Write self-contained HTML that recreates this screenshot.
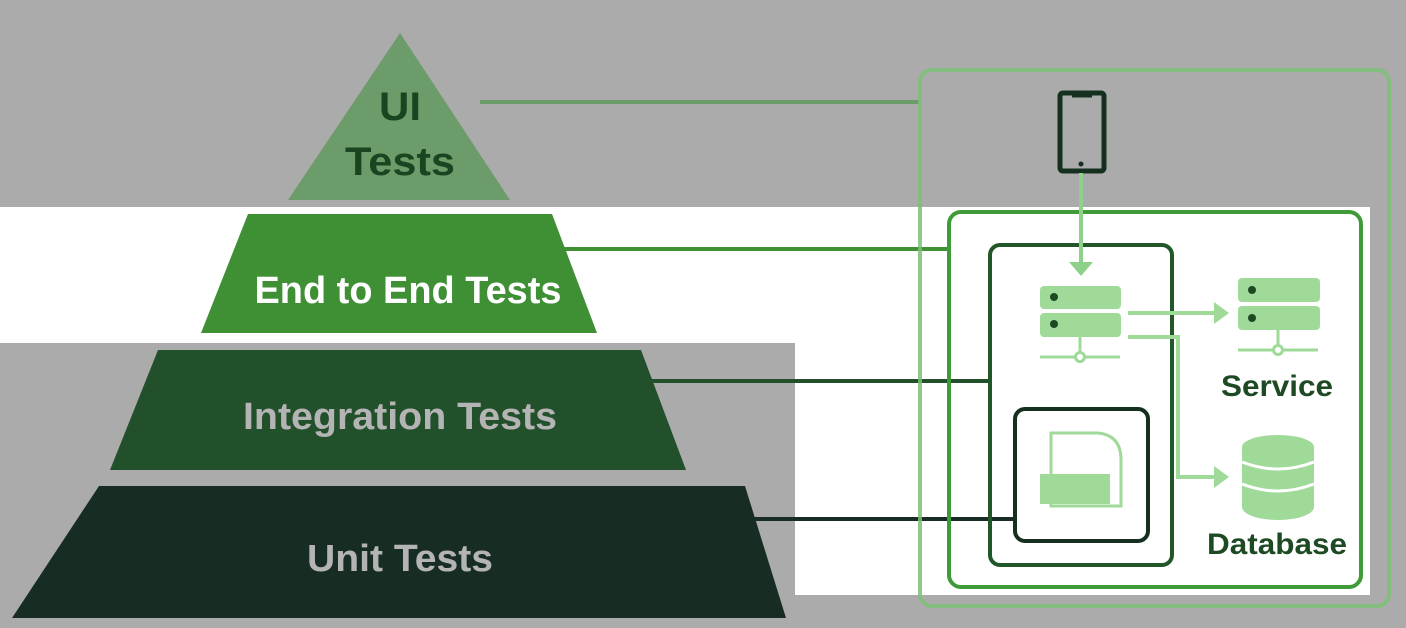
<!DOCTYPE html>
<html><head><meta charset="utf-8"><style>
html,body{margin:0;padding:0;background:#ababab;}
svg{display:block;font-family:"Liberation Sans",sans-serif;font-weight:bold;}
</style></head><body>
<svg width="1406" height="628" viewBox="0 0 1406 628" xmlns="http://www.w3.org/2000/svg">
<rect x="0" y="0" width="1406" height="628" fill="#ababab"/>
<rect x="0" y="207" width="1370" height="136" fill="#ffffff"/>
<rect x="795" y="342" width="575" height="253" fill="#ffffff"/>
<!-- pyramid -->
<polygon points="400,33 510,200 288,200" fill="#6c9c69"/>
<polygon points="248,214 552,214 597,333 201,333" fill="#3f8f35"/>
<polygon points="158,350 641,350 686,470 110,470" fill="#22502a"/>
<polygon points="99,486 745,486 786,618 12,618" fill="#172d24"/>
<text x="400" y="120" text-anchor="middle" font-size="40" fill="#1b4520" textLength="42" lengthAdjust="spacingAndGlyphs">UI</text>
<text x="400" y="175" text-anchor="middle" font-size="40" fill="#1b4520" textLength="110" lengthAdjust="spacingAndGlyphs">Tests</text>
<text x="408" y="303" text-anchor="middle" font-size="38" fill="#ffffff" textLength="307" lengthAdjust="spacingAndGlyphs">End to End Tests</text>
<text x="400" y="429" text-anchor="middle" font-size="38" fill="#b4b4b4" textLength="314" lengthAdjust="spacingAndGlyphs">Integration Tests</text>
<text x="400" y="571" text-anchor="middle" font-size="38" fill="#b4b4b4" textLength="186" lengthAdjust="spacingAndGlyphs">Unit Tests</text>
<!-- connector lines -->
<line x1="480" y1="102" x2="920" y2="102" stroke="#6c9c69" stroke-width="4"/>
<line x1="558" y1="249" x2="950" y2="249" stroke="#3f8f35" stroke-width="4"/>
<line x1="651" y1="381" x2="990" y2="381" stroke="#22502a" stroke-width="4"/>
<line x1="746" y1="519" x2="1015" y2="519" stroke="#172d24" stroke-width="4"/>
<!-- boxes -->
<rect x="920" y="70" width="469" height="536" rx="12" fill="none" stroke="#7cbf78" stroke-width="4" opacity="0.85"/>
<rect x="949" y="212" width="412" height="375" rx="12" fill="none" stroke="#3f9a38" stroke-width="4"/>
<rect x="990" y="245" width="182" height="320" rx="10" fill="none" stroke="#22572a" stroke-width="4"/>
<rect x="1015" y="409" width="133" height="132" rx="10" fill="none" stroke="#15301f" stroke-width="4"/>
<!-- phone -->
<rect x="1060" y="93" width="44" height="78" rx="3" fill="none" stroke="#15301f" stroke-width="5"/>
<line x1="1072" y1="96" x2="1092" y2="96" stroke="#15301f" stroke-width="3"/>
<circle cx="1081" cy="164" r="2.5" fill="#15301f"/>
<!-- arrow phone->server -->
<line x1="1081" y1="173" x2="1081" y2="265" stroke="#8fd08b" stroke-width="4"/>
<polygon points="1069,262 1093,262 1081,276" fill="#8fd08b"/>
<!-- servers -->
<g fill="#9fda98">
<rect x="1040" y="286" width="81" height="23" rx="4"/>
<rect x="1040" y="313" width="81" height="24" rx="4"/>
<rect x="1238" y="278" width="82" height="24" rx="4"/>
<rect x="1238" y="306" width="82" height="24" rx="4"/>
</g>
<g fill="#1d4a22">
<circle cx="1054" cy="297" r="4"/><circle cx="1054" cy="324" r="4"/>
<circle cx="1252" cy="290" r="4"/><circle cx="1252" cy="318" r="4"/>
</g>
<g stroke="#9fda98" stroke-width="3" fill="none">
<line x1="1080" y1="337" x2="1080" y2="353"/>
<line x1="1040" y1="357" x2="1120" y2="357"/>
<circle cx="1080" cy="357" r="4.5" fill="#fff"/>
<line x1="1278" y1="330" x2="1278" y2="346"/>
<line x1="1238" y1="350" x2="1318" y2="350"/>
<circle cx="1278" cy="350" r="4.5" fill="#fff"/>
</g>
<!-- arrows -->
<g stroke="#9fda98" stroke-width="4" fill="none">
<line x1="1128" y1="313" x2="1218" y2="313"/>
<polyline points="1128,337 1178,337 1178,477 1218,477"/>
</g>
<polygon points="1214,302 1229,313 1214,324" fill="#9fda98"/>
<polygon points="1214,466 1229,477 1214,488" fill="#9fda98"/>
<!-- database -->
<g fill="#9fda98">
<rect x="1242" y="447" width="72" height="60"/>
<ellipse cx="1278" cy="447" rx="36" ry="12"/>
<ellipse cx="1278" cy="507" rx="36" ry="13"/>
</g>
<g stroke="#fff" stroke-width="3" fill="none">
<path d="M1242,462 Q1278,476 1314,462"/>
<path d="M1242,484 Q1278,498 1314,484"/>
</g>
<text x="1277" y="396" text-anchor="middle" font-size="30" fill="#1d4a22" textLength="112" lengthAdjust="spacingAndGlyphs">Service</text>
<text x="1277" y="554" text-anchor="middle" font-size="30" fill="#1d4a22" textLength="140" lengthAdjust="spacingAndGlyphs">Database</text>
<!-- document icon -->
<path d="M1051,433 L1098,433 Q1120,435 1121,458 L1121,506 L1051,506 Z" fill="none" stroke="#9fda98" stroke-width="3"/>
<rect x="1040" y="474" width="70" height="30" fill="#9fda98"/>
</svg>
</body></html>
